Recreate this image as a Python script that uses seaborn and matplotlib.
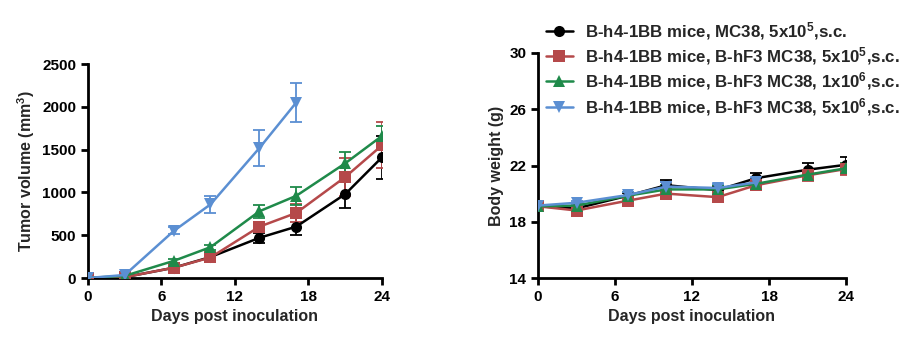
import matplotlib
matplotlib.use("Agg")
import matplotlib.pyplot as plt
import seaborn as sns
import pandas as pd
import numpy as np

# ---- data ----
days = [0, 3, 7, 10, 14, 17, 21, 24]
days_blue = [0, 3, 7, 10, 14, 17]

labels = [
    "B-h4-1BB mice, MC38, 5x10$^{5}$,s.c.",
    "B-h4-1BB mice, B-hF3 MC38, 5x10$^{5}$,s.c.",
    "B-h4-1BB mice, B-hF3 MC38, 1x10$^{6}$,s.c.",
    "B-h4-1BB mice, B-hF3 MC38, 5x10$^{6}$,s.c.",
]
colors = ["#000000", "#b5494a", "#1f8a4a", "#5b8fd2"]
markers = ["o", "s", "^", "v"]

tv_black = [0, 10, 120, 245, 470, 600, 980, 1410]
tv_red = [0, 10, 120, 240, 600, 760, 1180, 1550]
tv_green = [0, 25, 200, 360, 780, 960, 1340, 1660]
tv_blue = [0, 35, 550, 860, 1520, 2050]
tv_err_black = [0, 5, 15, 25, 60, 100, 165, 250]
tv_err_red = [0, 5, 15, 30, 60, 100, 220, 270]
tv_err_green = [0, 5, 20, 30, 75, 105, 130, 110]
tv_err_blue = [0, 10, 40, 95, 210, 230]

bw_black = [19.1, 18.95, 19.85, 20.6, 20.25, 21.1, 21.7, 22.05]
bw_red = [19.1, 18.8, 19.5, 20.0, 19.75, 20.6, 21.3, 21.75]
bw_green = [19.1, 19.15, 19.85, 20.3, 20.3, 20.7, 21.35, 21.8]
bw_blue = [19.15, 19.35, 19.9, 20.5, 20.4, 20.8]
bw_err_black = [0.1, 0.15, 0.2, 0.4, 0.3, 0.4, 0.5, 0.55]
bw_err_red = [0.15, 0.15, 0.2, 0.25, 0.35, 0.3, 0.4, 0.45]
bw_err_green = [0.1, 0.1, 0.25, 0.3, 0.3, 0.3, 0.35, 0.4]
bw_err_blue = [0.1, 0.15, 0.2, 0.3, 0.3, 0.3]

sns.set_style("ticks")
plt.rcParams["font.family"] = ["Liberation Sans", "DejaVu Sans"]
plt.rcParams["font.weight"] = "bold"
plt.rcParams["mathtext.fontset"] = "custom"
plt.rcParams["mathtext.rm"] = "Liberation Sans:bold"
plt.rcParams["mathtext.it"] = "Liberation Sans:bold"
plt.rcParams["mathtext.bf"] = "Liberation Sans:bold"

fig = plt.figure(figsize=(9.14, 3.38), dpi=100)
ax1 = fig.add_axes([88 / 914, 60 / 338, 294 / 914, 214 / 338])
ax2 = fig.add_axes([538 / 914, 60 / 338, 308 / 914, 225 / 338])

tv_series = [
    (days, tv_black, tv_err_black),
    (days, tv_red, tv_err_red),
    (days, tv_green, tv_err_green),
    (days_blue, tv_blue, tv_err_blue),
]
bw_series = [
    (days, bw_black, bw_err_black),
    (days, bw_red, bw_err_red),
    (days, bw_green, bw_err_green),
    (days_blue, bw_blue, bw_err_blue),
]

order = [3, 2, 0, 1]  # draw order (red on top)


def draw(ax, series):
    for k in order:
        x, y, e = series[k]
        df = pd.DataFrame({"day": x, "val": y})
        ax.errorbar(x, y, yerr=e, fmt="none", ecolor=colors[k], elinewidth=1.3,
                    capsize=4, capthick=1.3, zorder=2 + k * 0.1)
        sns.lineplot(data=df, x="day", y="val", ax=ax, color=colors[k],
                     marker=markers[k], markersize=8, markeredgewidth=0,
                     linewidth=1.8, zorder=3 + k * 0.1, label=labels[k],
                     legend=False)


draw(ax1, tv_series)
draw(ax2, bw_series)

ax1.set_ylim(0, 2500)
ax1.set_yticks([0, 500, 1000, 1500, 2000, 2500])
ax1.set_ylabel("Tumor volume (mm$^{3}$)", fontsize=11.5, fontweight="bold")
ax2.set_ylim(14, 30)
ax2.set_yticks([14, 18, 22, 26, 30])
ax2.set_ylabel("Body weight (g)", fontsize=11.5, fontweight="bold")

for ax in (ax1, ax2):
    for s in ("top", "right"):
        ax.spines[s].set_visible(False)
    for s in ("left", "bottom"):
        ax.spines[s].set_linewidth(2)
        ax.spines[s].set_color("black")
    ax.tick_params(width=2, length=5, labelsize=11, colors="black")
    ax.set_xlim(0, 24)
    ax.set_xticks([0, 6, 12, 18, 24])
    ax.set_xlabel("Days post inoculation", fontsize=11.5, fontweight="bold")
    for lab in ax.get_xticklabels() + ax.get_yticklabels():
        lab.set_fontweight("bold")

hs, ls = ax2.get_legend_handles_labels()
lab_to_h = dict(zip(ls, hs))
leg = fig.legend([lab_to_h[l] for l in labels], labels, loc="upper left",
                 bbox_to_anchor=(539 / 914, 1 - 13 / 338), frameon=False,
                 fontsize=12.2, handlelength=1.6, handletextpad=0.7,
                 labelspacing=0.2, borderaxespad=0)
for t in leg.get_texts():
    t.set_fontweight("bold")

fig.savefig("out.png", dpi=100)
